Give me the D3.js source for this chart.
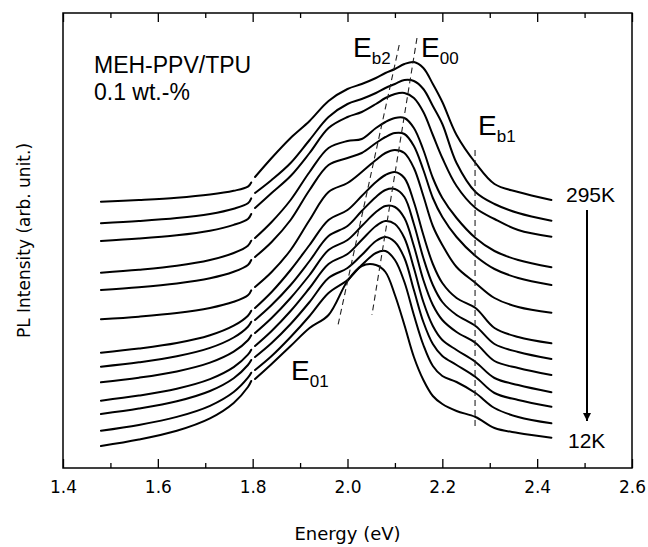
<!DOCTYPE html>
<html>
<head>
<meta charset="utf-8">
<script src="https://cdn.jsdelivr.net/npm/d3@7"></script>
<style>
  body { margin: 0; background: #fff; }
</style>
</head>
<body>
<div id="chart"></div>
<script>
// chart box
const MARGIN = { top: 13, right: 16, bottom: 79, left: 63 };
const W = 648, H = 547;

// photon energy (eV) of the sampled points, before and after the detector break at 1.8 eV
const energyLeft = [1.48, 1.56, 1.64, 1.71, 1.76, 1.79, 1.797];
const energyRight = [1.805, 1.84, 1.88, 1.92, 1.96, 2.0, 2.03, 2.06, 2.08, 2.1, 2.12, 2.14, 2.16, 2.18, 2.2, 2.23, 2.27, 2.31, 2.36, 2.43];

// PL intensity (arb. unit, vertically offset), from 295K (top) down to 12K (bottom)
const spectraLeft = [
  [2.663, 2.68, 2.702, 2.734, 2.772, 2.813, 2.855],
  [2.447, 2.469, 2.499, 2.541, 2.593, 2.647, 2.697],
  [2.27, 2.294, 2.327, 2.373, 2.431, 2.49, 2.54],
  [1.953, 1.983, 2.023, 2.08, 2.15, 2.223, 2.273],
  [1.78, 1.807, 1.845, 1.897, 1.962, 2.03, 2.08],
  [1.487, 1.513, 1.549, 1.6, 1.662, 1.727, 1.777],
  [1.153, 1.194, 1.249, 1.327, 1.423, 1.523, 1.573],
  [1.013, 1.057, 1.117, 1.201, 1.305, 1.413, 1.463],
  [0.857, 0.903, 0.966, 1.054, 1.164, 1.277, 1.327],
  [0.673, 0.724, 0.793, 0.889, 1.009, 1.133, 1.183],
  [0.54, 0.594, 0.667, 0.77, 0.898, 1.03, 1.08],
  [0.373, 0.431, 0.511, 0.622, 0.76, 0.903, 0.953],
  [0.22, 0.285, 0.373, 0.497, 0.651, 0.81, 0.87]
];
const spectraRight = [
  [2.91, 3.1, 3.3, 3.47, 3.67, 3.79, 3.84, 3.9, 3.95, 3.99, 4.04, 4.06, 4.0, 3.84, 3.66, 3.33, 3.05, 2.84, 2.76, 2.68],
  [2.75, 2.88, 3.05, 3.28, 3.51, 3.64, 3.69, 3.75, 3.8, 3.84, 3.88, 3.87, 3.79, 3.62, 3.44, 3.05, 2.76, 2.64, 2.55, 2.473],
  [2.6, 2.75, 2.92, 3.15, 3.4, 3.51, 3.56, 3.64, 3.7, 3.74, 3.75, 3.7, 3.56, 3.33, 3.1, 2.82, 2.6, 2.49, 2.38, 2.313],
  [2.3, 2.46, 2.68, 2.96, 3.2, 3.27, 3.29, 3.4, 3.46, 3.5, 3.5, 3.4, 3.18, 2.9, 2.7, 2.5, 2.3, 2.17, 2.08, 2.007],
  [2.11, 2.26, 2.48, 2.78, 3.03, 3.1, 3.15, 3.25, 3.31, 3.35, 3.34, 3.22, 2.98, 2.7, 2.51, 2.31, 2.12, 1.99, 1.9, 1.83],
  [1.81, 1.96, 2.18, 2.48, 2.76, 2.85, 2.96, 3.08, 3.15, 3.18, 3.15, 3.0, 2.72, 2.42, 2.23, 2.01, 1.85, 1.7, 1.61, 1.553],
  [1.6, 1.76, 1.98, 2.23, 2.48, 2.58, 2.72, 2.86, 2.93, 2.96, 2.9, 2.66, 2.33, 2.04, 1.85, 1.7, 1.6, 1.4, 1.31, 1.247],
  [1.48, 1.63, 1.83, 2.07, 2.32, 2.42, 2.57, 2.71, 2.78, 2.79, 2.71, 2.44, 2.1, 1.83, 1.66, 1.53, 1.42, 1.24, 1.16, 1.09],
  [1.35, 1.5, 1.7, 1.93, 2.18, 2.28, 2.42, 2.56, 2.62, 2.61, 2.5, 2.22, 1.88, 1.63, 1.48, 1.36, 1.25, 1.07, 1.0, 0.93],
  [1.22, 1.37, 1.57, 1.8, 2.04, 2.14, 2.28, 2.42, 2.47, 2.44, 2.3, 2.0, 1.66, 1.42, 1.28, 1.18, 1.06, 0.9, 0.83, 0.757],
  [1.11, 1.25, 1.44, 1.66, 1.9, 2.0, 2.13, 2.27, 2.31, 2.26, 2.1, 1.78, 1.46, 1.24, 1.12, 1.03, 0.91, 0.75, 0.68, 0.613],
  [0.98, 1.12, 1.31, 1.52, 1.75, 1.88, 2.03, 2.15, 2.17, 2.08, 1.86, 1.53, 1.23, 1.02, 0.92, 0.86, 0.75, 0.6, 0.51, 0.447],
  [0.89, 1.04, 1.22, 1.4, 1.53, 1.87, 2.02, 2.03, 1.96, 1.73, 1.43, 1.11, 0.88, 0.72, 0.64, 0.57, 0.51, 0.4, 0.35, 0.303]
];

// dashed guide lines [energy, intensity] end points
const guideLines = [
  [[2.109, 4.23], [1.98, 1.43]],   // Eb2
  [[2.1465, 4.3], [2.0516, 1.53]], // E00
  [[2.269, 3.18], [2.269, 0.4]]    // Eb1
];

const majorTicks = [1.4, 1.6, 1.8, 2.0, 2.2, 2.4, 2.6];
const minorTicks = [1.5, 1.7, 1.9, 2.1, 2.3, 2.5];

const svg = d3.select("#chart").append("svg")
  .attr("width", W).attr("height", H)
  .style("font-family", "'Liberation Sans', Arial, sans-serif");

const x = d3.scaleLinear().domain([1.4, 2.6]).range([MARGIN.left, W - MARGIN.right]);
const y = d3.scaleLinear().domain([0, 4.55]).range([H - MARGIN.bottom, MARGIN.top]);

const axisFont = "'DejaVu Sans', sans-serif";

// bottom axis with labels
const bottomAxis = svg.append("g")
  .attr("transform", `translate(0,${H - MARGIN.bottom})`)
  .call(d3.axisBottom(x).tickValues(majorTicks).tickSize(-9).tickPadding(13).tickFormat(d3.format(".1f")));
bottomAxis.select(".domain").remove();
bottomAxis.selectAll("text").style("font-size", "17px").style("font-family", axisFont).attr("fill", "#000");
bottomAxis.selectAll("line").attr("stroke-width", 1.3);

svg.append("g")
  .attr("transform", `translate(0,${H - MARGIN.bottom})`)
  .call(d3.axisBottom(x).tickValues(minorTicks).tickSize(-5).tickFormat(""))
  .call(g => g.select(".domain").remove())
  .selectAll("line").attr("stroke-width", 1.3);

// top axis, ticks only
svg.append("g")
  .attr("transform", `translate(0,${MARGIN.top})`)
  .call(d3.axisTop(x).tickValues(majorTicks).tickSize(-9).tickFormat(""))
  .call(g => g.select(".domain").remove())
  .selectAll("line").attr("stroke-width", 1.3);
svg.append("g")
  .attr("transform", `translate(0,${MARGIN.top})`)
  .call(d3.axisTop(x).tickValues(minorTicks).tickSize(-5).tickFormat(""))
  .call(g => g.select(".domain").remove())
  .selectAll("line").attr("stroke-width", 1.3);

// frame
svg.append("rect")
  .attr("x", x(1.4)).attr("y", y(4.55))
  .attr("width", x(2.6) - x(1.4)).attr("height", y(0) - y(4.55))
  .attr("fill", "none").attr("stroke", "#000").attr("stroke-width", 1.5);

// axis titles
svg.append("text")
  .attr("x", (x(1.4) + x(2.6)) / 2).attr("y", 540)
  .attr("text-anchor", "middle")
  .style("font-family", axisFont).style("font-size", "18px")
  .text("Energy (eV)");
svg.append("text")
  .attr("transform", `translate(30,${(y(0) + y(4.55)) / 2}) rotate(-90)`)
  .attr("text-anchor", "middle")
  .style("font-family", axisFont).style("font-size", "17px")
  .text("PL Intensity (arb. unit.)");

// spectra
const line = d3.line()
  .x(d => x(d[0])).y(d => y(d[1]))
  .curve(d3.curveCatmullRom.alpha(0.5));

const curves = svg.append("g").attr("fill", "none").attr("stroke", "#000")
  .attr("stroke-width", 2).attr("stroke-linejoin", "round").attr("stroke-linecap", "round");

spectraLeft.forEach((vals, i) => {
  curves.append("path").attr("d", line(vals.map((v, j) => [energyLeft[j], v])));
  curves.append("path").attr("d", line(spectraRight[i].map((v, j) => [energyRight[j], v])));
});

// dashed guides
svg.append("g").selectAll("line").data(guideLines).join("line")
  .attr("x1", d => x(d[0][0])).attr("y1", d => y(d[0][1]))
  .attr("x2", d => x(d[1][0])).attr("y2", d => y(d[1][1]))
  .attr("stroke", "#222").attr("stroke-width", 1.1).attr("stroke-dasharray", "6,4");

// annotations
const note = (px, py, size, main, sub) => {
  const t = svg.append("text").attr("x", px).attr("y", py).style("font-size", size + "px").text(main);
  if (sub) t.append("tspan").attr("dy", 7).style("font-size", Math.round(size * 0.62) + "px").text(sub);
};
note(94, 73, 23, "MEH-PPV/TPU");
note(94, 100, 23, "0.1 wt.-%");
note(353, 57, 28, "E", "b2");
note(421, 57, 28, "E", "00");
note(478, 135, 28, "E", "b1");
note(291, 380, 28, "E", "01");
note(566, 202, 21, "295K");
note(568, 448, 21, "12K");

// temperature arrow
svg.append("defs").append("marker")
  .attr("id", "head").attr("viewBox", "0 0 10 10").attr("refX", 10).attr("refY", 5)
  .attr("markerWidth", 4).attr("markerHeight", 5).attr("orient", "auto")
  .append("path").attr("d", "M0,0L10,5L0,10Z").attr("fill", "#000");
svg.append("line")
  .attr("x1", 587).attr("y1", 210).attr("x2", 587).attr("y2", 421)
  .attr("stroke", "#000").attr("stroke-width", 2).attr("marker-end", "url(#head)");
</script>
</body>
</html>
